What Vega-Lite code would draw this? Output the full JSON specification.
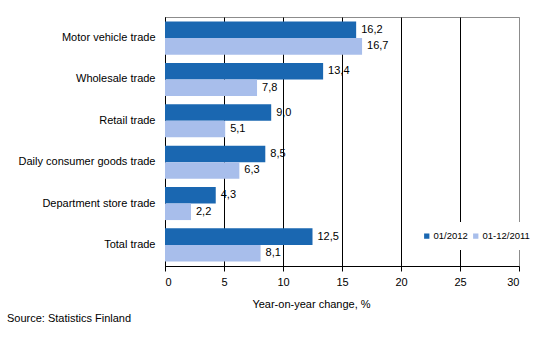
{
  "$schema": "https://vega.github.io/schema/vega-lite/v6.json",
  "width": 354,
  "height": 249,
  "autosize": {"type": "none"},
  "padding": {"left": 165, "top": 17, "right": 15, "bottom": 94},
  "background": "white",
  "config": {
    "locale": {"number": {"decimal": ",", "thousands": " ", "grouping": [3], "currency": ["", " €"]}},
    "font": "Liberation Sans",
    "view": {"stroke": "#8c8c8c", "strokeWidth": 1}
  },
  "title": {
    "text": "Source: Statistics Finland",
    "orient": "bottom",
    "anchor": "start",
    "frame": "group",
    "dx": -158,
    "offset": 4,
    "fontSize": 11,
    "fontWeight": "normal",
    "color": "black",
    "font": "Liberation Sans"
  },
  "data": {
    "values": [
      {"category": "Motor vehicle trade", "series": "01/2012", "value": 16.2},
      {"category": "Motor vehicle trade", "series": "01-12/2011", "value": 16.7},
      {"category": "Wholesale trade", "series": "01/2012", "value": 13.4},
      {"category": "Wholesale trade", "series": "01-12/2011", "value": 7.8},
      {"category": "Retail trade", "series": "01/2012", "value": 9.0},
      {"category": "Retail trade", "series": "01-12/2011", "value": 5.1},
      {"category": "Daily consumer goods trade", "series": "01/2012", "value": 8.5},
      {"category": "Daily consumer goods trade", "series": "01-12/2011", "value": 6.3},
      {"category": "Department store trade", "series": "01/2012", "value": 4.3},
      {"category": "Department store trade", "series": "01-12/2011", "value": 2.2},
      {"category": "Total trade", "series": "01/2012", "value": 12.5},
      {"category": "Total trade", "series": "01-12/2011", "value": 8.1}
    ]
  },
  "encoding": {
    "y": {
      "field": "category",
      "type": "nominal",
      "sort": null,
      "scale": {"paddingInner": 0.2, "paddingOuter": 0.11},
      "axis": {
        "title": null,
        "ticks": false,
        "labelPadding": 10,
        "labelFontSize": 11,
        "labelColor": "black",
        "domainColor": "black",
        "labelLimit": 200
      }
    },
    "yOffset": {
      "field": "series",
      "type": "nominal",
      "sort": ["01/2012", "01-12/2011"],
      "scale": {"paddingInner": 0, "paddingOuter": 0}
    },
    "x": {
      "field": "value",
      "type": "quantitative",
      "scale": {"domain": [0, 30], "nice": false},
      "axis": {
        "values": [0, 5, 10, 15, 20, 25, 30],
        "title": "Year-on-year change, %",
        "titleFontSize": 11,
        "titleFontWeight": "normal",
        "titleColor": "black",
        "titleX": 146,
        "titleY": 41,
        "titleBaseline": "alphabetic",
        "titleAnchor": "middle",
        "labelFontSize": 11,
        "labelColor": "black",
        "labelPadding": 5,
        "tickColor": "black",
        "tickSize": 5,
        "domainColor": "black",
        "gridColor": {"condition": {"test": "datum.value == 30", "value": "#8c8c8c"}, "value": "black"},
        "gridOpacity": 1
      }
    }
  },
  "layer": [
    {
      "mark": {"type": "bar"},
      "encoding": {
        "color": {
          "field": "series",
          "type": "nominal",
          "sort": ["01/2012", "01-12/2011"],
          "scale": {"domain": ["01/2012", "01-12/2011"], "range": ["#1A67B1", "#A8BEEB"]},
          "legend": {
            "title": null,
            "orient": "none",
            "direction": "horizontal",
            "legendX": 248,
            "legendY": 205,
            "fillColor": "white",
            "padding": 9,
            "symbolType": "square",
            "symbolSize": 28,
            "symbolStrokeWidth": 0,
            "labelFontSize": 9.5,
            "labelColor": "black",
            "labelOffset": 2,
            "columnPadding": 3
          }
        }
      }
    },
    {
      "mark": {"type": "text", "align": "left", "baseline": "middle", "dx": 5, "fontSize": 11, "color": "black"},
      "encoding": {
        "text": {"field": "value", "type": "quantitative", "format": ".1f"}
      }
    }
  ]
}
